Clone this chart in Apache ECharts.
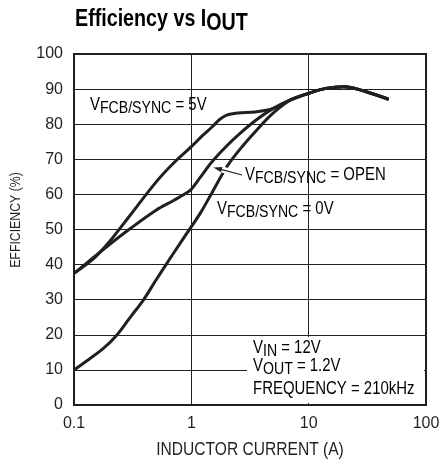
<!DOCTYPE html>
<html>
<head>
<meta charset="utf-8">
<script src="https://cdn.jsdelivr.net/npm/echarts@6/dist/echarts.min.js"></script>
<style>
html,body{margin:0;padding:0;background:#fff;}
#c{width:443px;height:460px;}
</style>
</head>
<body>
<div id="c"></div>
<script>
// ---- data ----
const xTickLabels = ['0.1', '1', '10', '100'];
const yTickLabels = ['0', '10', '20', '30', '40', '50', '60', '70', '80', '90', '100'];

const i5V  = [0.1, 0.15, 0.2, 0.3, 0.5, 0.7, 1, 1.25, 1.5, 1.75, 2, 2.5, 3.5, 5, 7, 10, 14, 20, 30, 48];
const e5V  = [37.5, 42, 46.5, 54, 63.5, 68.8, 73.6, 76.8, 79.2, 81.4, 82.6, 83.2, 83.5, 84.5, 86.9, 88.8, 90.2, 90.7, 89.4, 87.1];

const iOpen = [0.1, 0.15, 0.19, 0.3, 0.5, 0.7, 0.9, 1, 1.2, 1.5, 2, 2.6, 3.5, 5, 7, 10, 14, 20, 30, 48];
const eOpen = [37.5, 42.3, 45.1, 50.2, 55.5, 58.2, 60.3, 61.5, 65, 69.3, 73.8, 77.4, 81, 84.5, 86.9, 88.8, 90.2, 90.7, 89.4, 87.1];

const i0V  = [0.1, 0.13, 0.178, 0.231, 0.3, 0.39, 0.5, 0.7, 1, 1.2, 1.5, 2, 2.6, 3.6, 5, 7, 10, 14, 20, 30, 48];
const e0V  = [10, 12.7, 16.1, 19.9, 24.9, 29.9, 35.6, 43.1, 50.8, 54.8, 60.5, 67.8, 72.9, 78.3, 83.2, 86.9, 88.8, 90.2, 90.7, 89.4, 87.1];

const xTitle = 'INDUCTOR CURRENT (A)';
const yTitle = 'EFFICIENCY (%)';

const ink = '#231f20';
const font = "'Liberation Sans', Arial, sans-serif";
const squeeze = 0.83;   // emulate the condensed face of the original

function pairs(xs, ys) { return xs.map((x, k) => [x, ys[k]]); }

function lineSeries(name, xs, ys) {
  return {
    name: name, type: 'line', data: pairs(xs, ys),
    smooth: 0.35, showSymbol: false, symbol: 'none', silent: true,
    lineStyle: { color: ink, width: 3 }, z: 3
  };
}

const main = { fontSize: 18, fontFamily: font, lineHeight: 22, verticalAlign: 'top', color: ink };
const sub = { fontSize: 17, fontFamily: font, lineHeight: 22, padding: [4, 0, 0, 0], verticalAlign: 'top', color: ink };

function label(x, y, txt) {
  return { type: 'text', x: x, y: y, z: 120, scaleX: squeeze,
    style: { text: txt, verticalAlign: 'top', align: 'left', rich: { m: main, s: sub } } };
}

const chart = echarts.init(document.getElementById('c'), null, { renderer: 'canvas' });
chart.setOption({
  animation: false,
  backgroundColor: '#fff',
  grid: { left: 74, right: 17, top: 54, bottom: 55, containLabel: false, outerBoundsMode: 'none',
    show: true, borderColor: ink, borderWidth: 2, backgroundColor: 'transparent' },
  xAxis: {
    type: 'log', logBase: 10, min: 0.1, max: 100,
    axisLine: { show: true, lineStyle: { color: ink, width: 2 } },
    axisTick: { show: false },
    splitLine: { show: true, lineStyle: { color: ink, width: 1 } },
    axisLabel: { color: ink, fontFamily: font, fontSize: 16, margin: 11,
      formatter: v => xTickLabels[Math.round(Math.log10(v)) + 1] }
  },
  yAxis: {
    type: 'value', min: 0, max: 100, interval: 10,
    axisLine: { show: true, lineStyle: { color: ink, width: 2 } },
    axisTick: { show: false },
    splitLine: { show: true, lineStyle: { color: ink, width: 1 } },
    axisLabel: { color: ink, fontFamily: font, fontSize: 16, margin: 11, padding: [4, 0, 0, 0],
      formatter: v => yTickLabels[Math.round(v / 10)] }
  },
  series: [
    lineSeries('VFCB/SYNC = 5V', i5V, e5V),
    lineSeries('VFCB/SYNC = OPEN', iOpen, eOpen),
    lineSeries('VFCB/SYNC = 0V', i0V, e0V)
  ],
  graphic: [
    { type: 'text', x: 75, y: 7, z: 120, scaleX: 0.82,
      style: { text: '{t|Efficiency vs I}{s|OUT}', verticalAlign: 'top',
        rich: {
          t: { fontSize: 24, fontWeight: 'bold', fontFamily: font, lineHeight: 26, verticalAlign: 'top', color: ink },
          s: { fontSize: 24, fontWeight: 'bold', fontFamily: font, lineHeight: 26, padding: [4, 0, 0, 0], verticalAlign: 'top', color: ink }
        } } },
    { type: 'text', x: 15.5, y: 220, rotation: Math.PI / 2, scaleX: 0.82, z: 120,
      style: { text: yTitle, align: 'center', verticalAlign: 'middle', fill: ink, font: "15px " + font } },
    { type: 'text', x: 250, y: 449.4, scaleX: 0.82, z: 120,
      style: { text: xTitle, align: 'center', verticalAlign: 'middle', fill: ink, font: "19px " + font } },
    label(90, 95.8, '{m|V}{s|FCB/SYNC}{m| = 5V}'),
    label(245, 165.8, '{m|V}{s|FCB/SYNC}{m| = OPEN}'),
    label(217, 200.1, '{m|V}{s|FCB/SYNC}{m| = 0V}'),
    { type: 'rect', z: 110, shape: { x: 247, y: 337, width: 177, height: 66 }, style: { fill: '#fff' } },
    label(253, 338.8, '{m|V}{s|IN}{m| = 12V}'),
    label(253, 357.1, '{m|V}{s|OUT}{m| = 1.2V}'),
    label(253, 380.1, '{m|FREQUENCY = 210kHz}'),
    { type: 'line', z: 110, shape: { x1: 221, y1: 169.2, x2: 233, y2: 172.5 }, style: { stroke: '#fff', lineWidth: 6 } },
    { type: 'line', z: 115, shape: { x1: 242, y1: 175, x2: 220, y2: 169.2 }, style: { stroke: ink, lineWidth: 1.2 } },
    { type: 'polygon', z: 115, shape: { points: [[213.5, 167.4], [222.4, 166.9], [221.0, 172.2]] }, style: { fill: ink } }
  ]
});
</script>
</body>
</html>
